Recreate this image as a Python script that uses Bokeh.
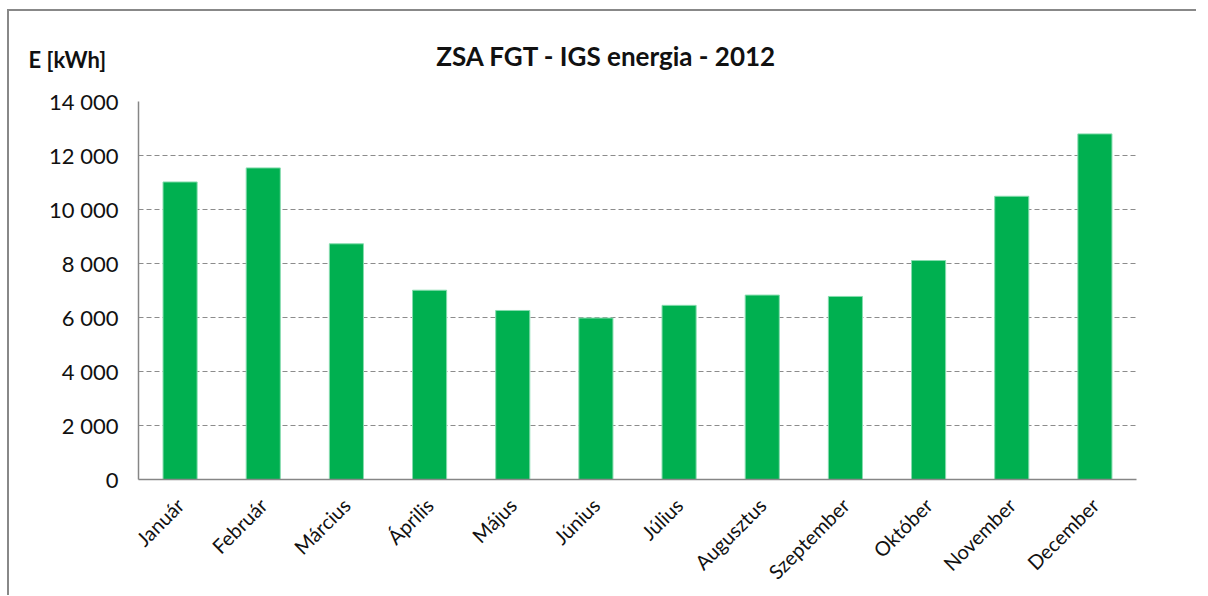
from bokeh.plotting import figure
from bokeh.models import FactorRange, Range1d, FixedTicker, Label
from bokeh.embed import file_html
from bokeh.resources import INLINE
import math

months = ["Január", "Február", "Március", "Április", "Május", "Június",
          "Július", "Augusztus", "Szeptember", "Október", "November", "December"]
energy_kwh = [11020, 11540, 8730, 7010, 6260, 5980, 6450, 6830, 6780, 8110, 10490, 12800]
y_ticks = [0, 2000, 4000, 6000, 8000, 10000, 12000, 14000]
y_tick_labels = ["0", "2 000", "4 000", "6 000", "8 000", "10 000", "12 000", "14 000"]
title_text = "ZSA FGT - IGS energia - 2012"
unit_text = "E [kWh]"

FONT = "Lato"
TEXT_COLOR = "#111111"
AXIS_COLOR = "#868686"

p = figure(frame_width=998, frame_height=378, x_range=FactorRange(*months, range_padding=0),
           y_range=Range1d(0, 14000), output_backend="svg", toolbar_location=None,
           min_border_left=129, min_border_right=60, min_border_top=90, min_border_bottom=100)
p.background_fill_color = "white"
p.border_fill_color = "white"
p.outline_line_color = None
p.styles = {"margin-left": "7px", "margin-top": "9px",
            "border-left": "2px solid #888888", "border-top": "2px solid #888888"}

p.vbar(x=months, top=energy_kwh, width=0.41, fill_color="#00B050",
       line_color="#86dcae", line_width=1)

p.yaxis.ticker = FixedTicker(ticks=y_ticks)
p.yaxis.major_label_overrides = {t: l for t, l in zip(y_ticks, y_tick_labels)}
for ax in (p.xaxis[0], p.yaxis[0]):
    ax.axis_line_color = AXIS_COLOR
    ax.axis_line_width = 1.5
    ax.major_tick_line_color = None
    ax.minor_tick_line_color = None
    ax.major_tick_in = 0
    ax.major_tick_out = 0
    ax.major_label_text_font = FONT
    ax.major_label_text_color = TEXT_COLOR
p.yaxis.major_label_text_font_size = "22px"
p.xaxis.major_label_text_font_size = "20px"
p.yaxis.major_label_standoff = 20
p.xaxis.major_label_standoff = 22
p.xaxis.major_label_orientation = math.pi / 4

p.xgrid.grid_line_color = None
p.ygrid.grid_line_color = "#8c8c8c"
p.ygrid.grid_line_dash = "5 3"
p.ygrid.grid_line_width = 1

p.add_layout(Label(x=468, y=46, x_units="screen", y_units="screen", text=title_text,
                   text_font=FONT, text_font_style="bold", text_font_size="26px",
                   text_align="center", text_baseline="middle", text_color=TEXT_COLOR), "above")
p.add_layout(Label(x=-110, y=10, x_units="screen", y_units="screen", text=unit_text,
                   text_font=FONT, text_font_style="bold", text_font_size="22px",
                   text_align="left", text_baseline="middle", text_color=TEXT_COLOR), "above")

open("out.html", "w").write(file_html(p, INLINE))
